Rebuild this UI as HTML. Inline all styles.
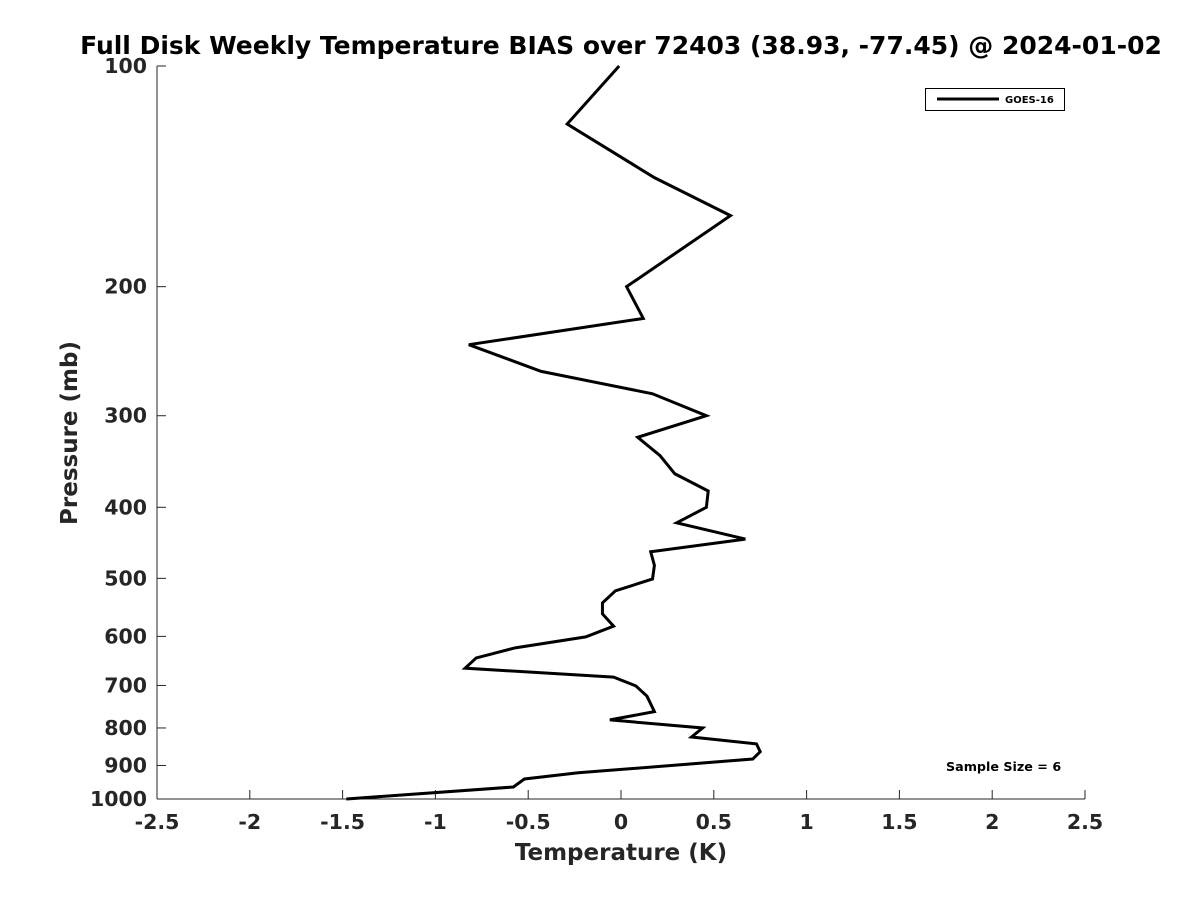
<!DOCTYPE html>
<html><head><meta charset="utf-8"><style>
body{margin:0;background:#fff;}
svg text{font-family:"DejaVu Sans","Liberation Sans",sans-serif;font-weight:bold;fill:#262626;}
</style></head><body>
<svg id="chart" width="1200" height="900" xmlns="http://www.w3.org/2000/svg">
<rect width="1200" height="900" fill="#fff"/>
<text x="621" y="54" text-anchor="middle" font-size="25" style="fill:#000">Full Disk Weekly Temperature BIAS over 72403 (38.93, -77.45) @ 2024-01-02</text>
<g id="axes"></g>
<polyline id="series" fill="none" stroke="#000" stroke-width="3" stroke-linejoin="miter"/>
<g>
<rect x="925.5" y="88.5" width="139" height="22" fill="#fff" stroke="#000" stroke-width="1"/>
<line x1="937" y1="99" x2="999" y2="99" stroke="#000" stroke-width="3"/>
<text x="1005" y="103" font-size="10" style="fill:#000">GOES-16</text>
</g>
<text x="946" y="771" font-size="12.7" style="fill:#000">Sample Size = 6</text>
<text x="621" y="860" text-anchor="middle" font-size="23">Temperature (K)</text>
<text transform="translate(77,433) rotate(-90)" text-anchor="middle" font-size="23">Pressure (mb)</text>
</svg>
<script>
const pressures=[100,120,142,160,200,221,240,261,280,300,321,340,360,380,400,420,442,460,480,501,520,540,559,581,601,622,642,663,682,701,724,760,780,800,823,841,862,882,921,939,963,1000];
const biases=[-0.01,-0.29,0.18,0.59,0.03,0.12,-0.82,-0.43,0.17,0.46,0.09,0.21,0.29,0.47,0.46,0.30,0.67,0.16,0.18,0.17,-0.03,-0.10,-0.10,-0.04,-0.19,-0.57,-0.78,-0.84,-0.04,0.08,0.14,0.18,-0.06,0.44,0.38,0.73,0.75,0.71,-0.23,-0.52,-0.58,-1.48];
const xTicks=[-2.5,-2,-1.5,-1,-0.5,0,0.5,1,1.5,2,2.5];
const yTicks=[100,200,300,400,500,600,700,800,900,1000];
const L=157,R=1085,T=66,B=799;
function xs(v){return L+(v+2.5)/5*(R-L);}
function ys(p){return T+Math.log10(p/100)*(B-T);}
const ns="http://www.w3.org/2000/svg";
const ax=document.getElementById('axes');
function mk(tag,attrs){const e=document.createElementNS(ns,tag);for(const k in attrs)e.setAttribute(k,attrs[k]);ax.appendChild(e);return e;}
let a=mk('line',{x1:L,y1:T,x2:L,y2:B,stroke:'#262626','stroke-width':1});


a=mk('line',{x1:L,y1:B,x2:R,y2:B,stroke:'#262626','stroke-width':1});


xTicks.forEach(v=>{
 const x=xs(v);
 const t=mk('line',{x1:x,y1:B,x2:x,y2:B-9,stroke:'#262626','stroke-width':1});
 
 
 const l=mk('text',{x:x,y:B+30,'text-anchor':'middle','font-size':20.5});
 l.textContent=String(v);
 
 
});
yTicks.forEach(p=>{
 const y=ys(p);
 const t=mk('line',{x1:L,y1:y,x2:L+9,y2:y,stroke:'#262626','stroke-width':1});
 
 
 const l=mk('text',{x:L-10,y:y+7,'text-anchor':'end','font-size':20.5});
 l.textContent=String(p);
 
 
});
document.getElementById('series').setAttribute('points',pressures.map((p,i)=>xs(biases[i])+','+ys(p)).join(' '));
</script>
</body></html>
